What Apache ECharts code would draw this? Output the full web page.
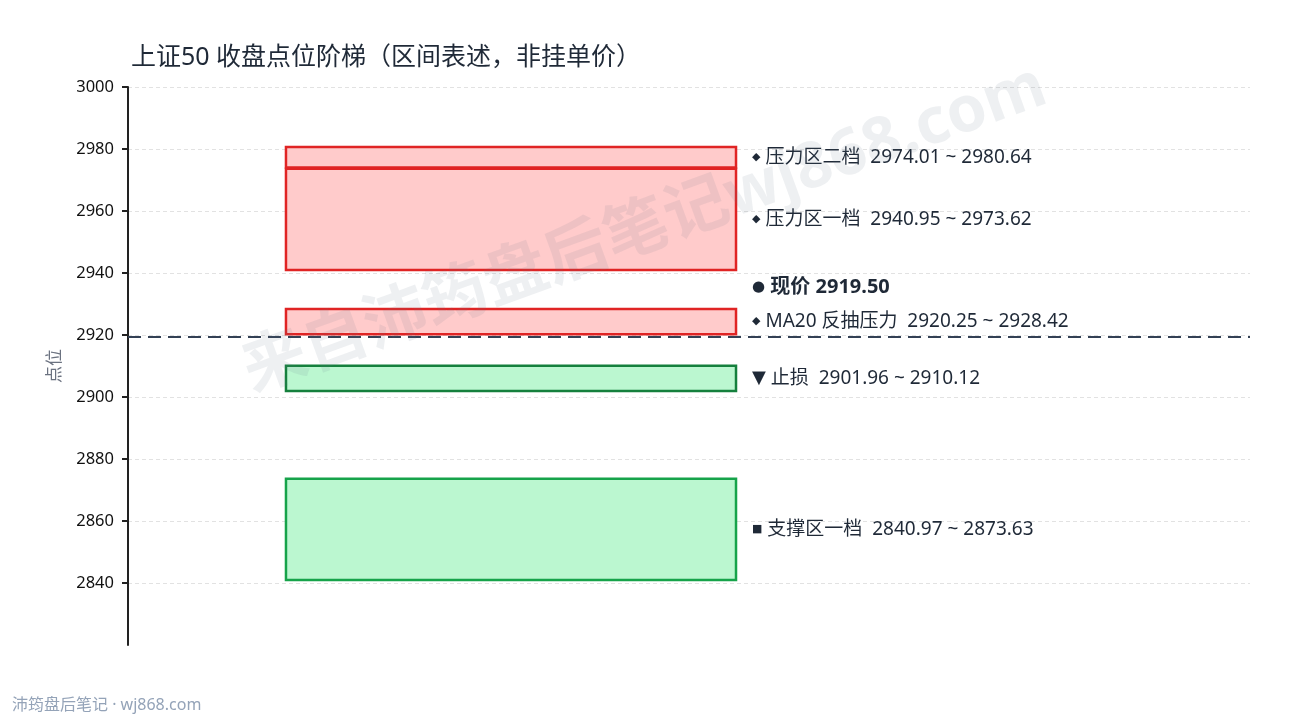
<!DOCTYPE html>
<html>
<head>
<meta charset="utf-8">
<script src="https://cdn.jsdelivr.net/npm/echarts@6/dist/echarts.min.js"></script>
<style>
  html, body { margin: 0; padding: 0; background: #fff; }
  #chart { width: 1290px; height: 720px; }
</style>
</head>
<body>
<div id="chart"></div>
<script>
var zoneNames = ["压力区二档", "压力区一档", "MA20 反抽压力", "止损", "支撑区一档"];
var zoneLow = [2974.01, 2940.95, 2920.25, 2901.96, 2840.97];
var zoneHigh = [2980.64, 2973.62, 2928.42, 2910.12, 2873.63];
var zoneMarks = ["◆", "◆", "◆", "▼", "■"];
var zoneKinds = ["resist", "resist", "resist", "stop", "support"];
var currentPrice = 2919.50;

var FONT = "'Noto Sans', 'Noto Sans CJK SC', sans-serif";
var styles = {
  resist: { fill: "#ffcbcb", stroke: "#e02424" },
  stop: { fill: "#bbf7d0", stroke: "#15803d" },
  support: { fill: "#bbf7d0", stroke: "#16a34a" }
};

var zoneData = [];
for (var i = 0; i < zoneNames.length; i++) {
  zoneData.push([zoneLow[i], zoneHigh[i]]);
}

var chart = echarts.init(document.getElementById("chart"));

chart.setOption({
  animation: false,
  title: {
    text: "上证50 收盘点位阶梯（区间表述，非挂单价）",
    left: 126,
    top: 40,
    textStyle: { fontFamily: FONT, fontSize: 25, fontWeight: "normal", color: "#1f2937" }
  },
  grid: { left: 128, right: 40, top: 87, bottom: 75 },
  xAxis: { type: "value", min: 0, max: 1, show: false },
  yAxis: {
    type: "value",
    min: 2820,
    max: 3000,
    interval: 20,
    name: "点位",
    nameLocation: "middle",
    nameGap: 64,
    nameTextStyle: { fontFamily: FONT, fontSize: 17, color: "#6b7280" },
    axisLine: { show: true, lineStyle: { color: "#222", width: 2 } },
    axisTick: { show: true, length: 6, lineStyle: { color: "#222", width: 2 } },
    axisLabel: {
      showMinLabel: false, margin: 14, fontFamily: FONT, fontSize: 16.5, color: "#111",
      formatter: function (v) { return String(v); }
    },
    splitLine: { show: true, showMinLine: false, lineStyle: { color: "#e2e2e2", type: [4, 3] } }
  },
  series: [
    {
      type: "custom",
      data: zoneData,
      encode: { y: [0, 1] },
      renderItem: function (params, api) {
        var i = params.dataIndex;
        var st = styles[zoneKinds[i]];
        var p0 = api.coord([0.1408, api.value(1)]);
        var p1 = api.coord([0.5419, api.value(0)]);
        return {
          type: "group",
          children: [
            {
              type: "rect",
              shape: { x: p0[0], y: p0[1], width: p1[0] - p0[0], height: p1[1] - p0[1] },
              style: { fill: st.fill, stroke: st.stroke, lineWidth: 2.5 }
            },
            {
              type: "text",
              x: p1[0] + 16,
              y: (p0[1] + p1[1]) / 2,
              style: {
                text: "{m|" + zoneMarks[i] + "} " + zoneNames[i] + "  " +
                  zoneLow[i].toFixed(2) + " ~ " + zoneHigh[i].toFixed(2),
                rich: {
                  m: { fontSize: zoneMarks[i] == "▼" ? 18 : 11, fontFamily: "DejaVu Sans", fill: "#1f2937" }
                },
                fontFamily: FONT,
                fontSize: 19,
                fill: "#1f2937",
                verticalAlign: "middle"
              }
            }
          ]
        };
      }
    },
    {
      type: "custom",
      data: [[currentPrice]],
      encode: { y: 0 },
      renderItem: function (params, api) {
        var p = api.coord([0.5419, api.value(0)]);
        return {
          type: "text",
          x: p[0] + 16,
          y: p[1] - 49,
          style: {
            text: "{m|●} 现价 " + currentPrice.toFixed(2),
            rich: { m: { fontSize: 15, fontFamily: "DejaVu Sans", fill: "#1f2937" } },
            fontFamily: FONT,
            fontSize: 20,
            fontWeight: "bold",
            fill: "#1f2937",
            verticalAlign: "middle"
          }
        };
      },
      markLine: {
        silent: true,
        symbol: "none",
        label: { show: false },
        lineStyle: { color: "#334155", width: 2, type: [13, 7] },
        data: [{ yAxis: currentPrice }]
      }
    }
  ],
  graphic: [
    {
      type: "text",
      x: 645,
      y: 230,
      rotation: 20 * Math.PI / 180,
      z: 100,
      style: {
        text: "来自沛筠盘后笔记wj868.com",
        fontFamily: FONT,
        fontSize: 64,
        fontWeight: "bold",
        fill: "rgba(100,116,139,0.11)",
        textAlign: "center",
        verticalAlign: "middle"
      }
    },
    {
      type: "text",
      left: 12,
      top: 697,
      style: {
        text: "沛筠盘后笔记 · wj868.com",
        fontFamily: FONT,
        fontSize: 16,
        fill: "#94a3b8"
      }
    }
  ]
});
</script>
</body>
</html>
